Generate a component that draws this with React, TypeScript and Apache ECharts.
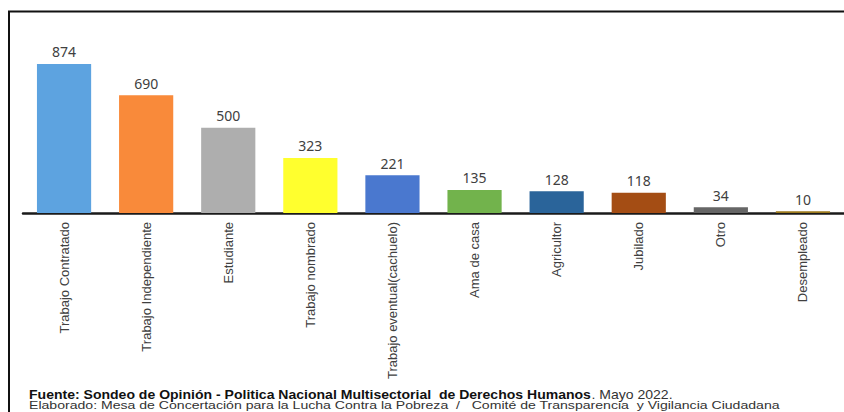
import React, { useEffect, useRef } from "react";
import * as echarts from "echarts";

const categories = [
  "Trabajo Contratado",
  "Trabajo Independiente",
  "Estudiante",
  "Trabajo nombrado",
  "Trabajo eventual(cachuelo)",
  "Ama de casa",
  "Agricultor",
  "Jubilado",
  "Otro",
  "Desempleado",
];
const values = [874, 690, 500, 323, 221, 135, 128, 118, 34, 10];
const colors = [
  "#5DA3E0",
  "#F98A3A",
  "#AEAEAE",
  "#FFFF2E",
  "#4A78CF",
  "#72B34C",
  "#2A649A",
  "#A44D14",
  "#666666",
  "#9C7A1E",
];
const sourceBold = "Fuente: Sondeo de Opinión - Politica Nacional Multisectorial  de Derechos Humanos";
const sourceNormal = ". Mayo 2022.";
const credits =
  "Elaborado: Mesa de Concertación para la Lucha Contra la Pobreza  /   Comité de Transparencia  y Vigilancia Ciudadana";

export default function App() {
  const ref = useRef<HTMLDivElement>(null);
  useEffect(() => {
    if (!ref.current) return;
    const chart = echarts.init(ref.current, undefined, { renderer: "svg" });
    chart.setOption({
      animation: false,
      backgroundColor: "#ffffff",
      grid: { left: 23, right: 0, top: 39, bottom: 199 },
      xAxis: {
        type: "category",
        data: categories,
        axisLine: { show: true, lineStyle: { color: "#1a1a1a", width: 2.5 } },
        axisTick: { show: false },
        axisLabel: {
          rotate: 90,
          interval: 0,
          margin: 9,
          color: "#404040",
          fontFamily: "Liberation Sans",
          fontSize: 13,
        },
      },
      yAxis: {
        type: "value",
        min: 0,
        max: 1020,
        show: false,
        splitLine: { show: false },
      },
      series: [
        {
          type: "bar",
          barCategoryGap: "34%",
          data: values.map((v, i) => ({ value: v, itemStyle: { color: colors[i] } })),
          label: {
            show: true,
            position: "top",
            distance: 5,
            color: "#404040",
            fontFamily: "Noto Sans",
            fontSize: 14,
          },
        },
      ],
      graphic: [
        {
          type: "polyline",
          shape: { points: [[9, 412], [9, 11.5], [844, 11.5]] },
          style: { stroke: "#111", lineWidth: 2, fill: "none" },
          z: 100,
        },
        {
          type: "text",
          x: 29,
          y: 395,
          scaleX: 1.17,
          style: {
            text: "{b|" + sourceBold + "}{n|" + sourceNormal + "}",
            verticalAlign: "middle",
            rich: {
              b: { fontFamily: "Liberation Sans", fontSize: 12, fontWeight: "bold", fill: "#111" },
              n: { fontFamily: "Liberation Sans", fontSize: 12, fill: "#333" },
            },
          },
        },
        {
          type: "text",
          x: 29,
          y: 406,
          scaleX: 1.28,
          style: {
            text: credits,
            verticalAlign: "middle",
            fontFamily: "Liberation Sans",
            fontSize: 11,
            fill: "#333",
          },
        },
      ],
    });
    return () => chart.dispose();
  }, []);
  return (
    <div
      ref={ref}
      style={{ position: "fixed", left: 0, top: 0, width: 844, height: 412, background: "#fff" }}
    />
  );
}
